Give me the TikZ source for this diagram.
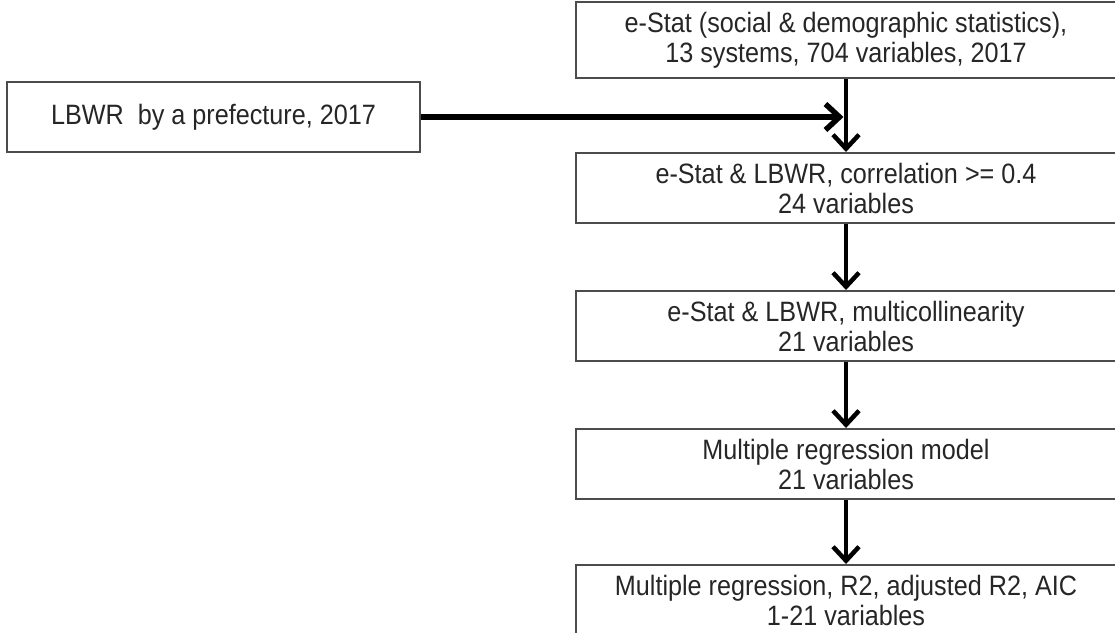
\documentclass[tikz,border=0pt]{standalone}
\usepackage{fontspec}
\setmainfont{Liberation Sans}[FakeStretch=0.9]
\usetikzlibrary{arrows.meta}
\begin{document}
\begin{tikzpicture}[x=1pt,y=1pt,
  box/.style={draw=black!70, line width=2pt, align=center, inner sep=0pt,
    text=black!85, font=\fontsize{28}{30}\selectfont},
  colbox/.style={box, minimum width=540pt, minimum height=70pt},
  flow/.style={draw=black, line width=4.5pt, -{Straight Barb[length=14pt,width=26pt]}}]
\useasboundingbox (0,0) rectangle (1115,-632);
\node[colbox, minimum height=76pt] (s1) at (846,-40) {e-Stat (social \& demographic statistics),\\13 systems, 704 variables, 2017};
\node[box, minimum width=413pt, minimum height=70pt] (lb) at (213.5,-117) {LBWR\ \ by a prefecture, 2017};
\node[colbox] (s2) at (846,-188) {e-Stat \& LBWR, correlation >= 0.4\\24 variables};
\node[colbox] (s3) at (846,-326) {e-Stat \& LBWR, multicollinearity\\21 variables};
\node[colbox] (s4) at (846,-464) {Multiple regression model\\21 variables};
\node[colbox] (s5) at (846,-600) {Multiple regression, R2, adjusted R2, AIC\\1-21 variables};
\coordinate (j) at (s1.south |- lb.east);
\draw[flow, line width=5.5pt] (lb.east) -- ([xshift=-2.5pt]j);
\draw[flow] (s1) -- (s2);
\draw[flow] (s2) -- (s3);
\draw[flow] (s3) -- (s4);
\draw[flow] (s4) -- (s5);
\end{tikzpicture}
\end{document}
